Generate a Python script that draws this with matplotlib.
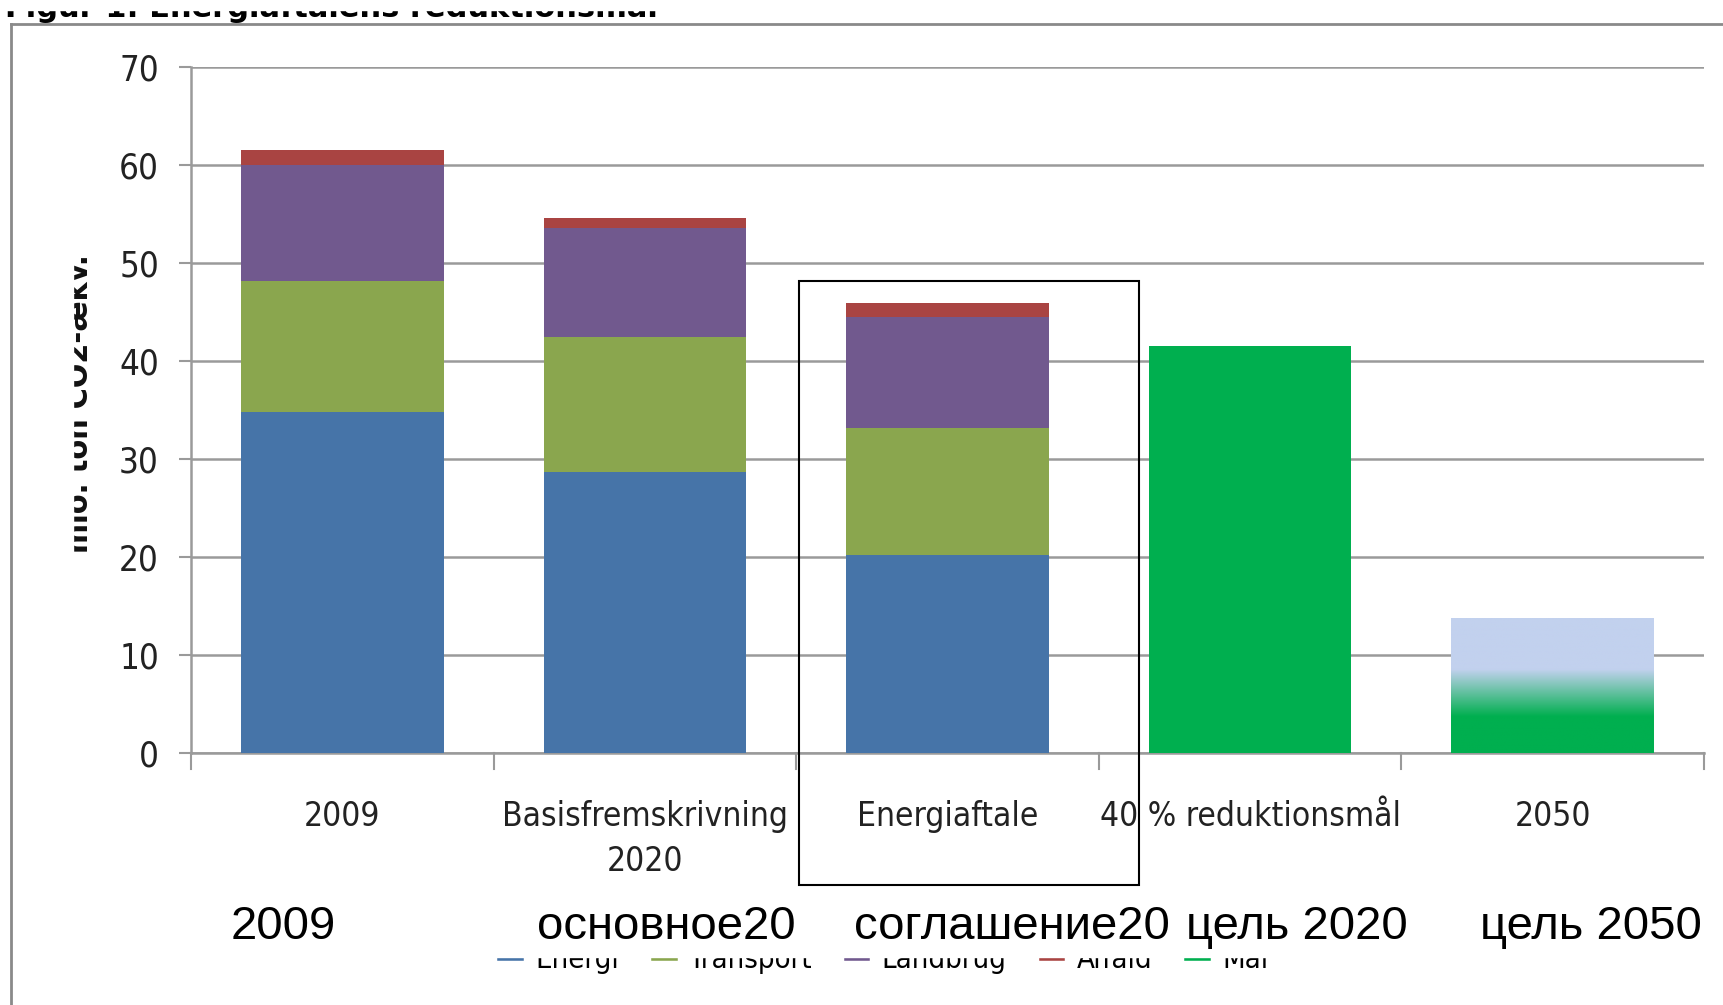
import matplotlib
matplotlib.use("Agg")
import matplotlib.pyplot as plt
import numpy as np
from matplotlib.colors import LinearSegmentedColormap
from matplotlib.lines import Line2D
from matplotlib.patches import Rectangle
from matplotlib import font_manager as fm

# ---- data ----
categories = ["2009", "Basisfremskrivning\n2020", "Energiaftale", "40 % reduktionsmål", "2050"]
energi = [34.8, 28.7, 20.2, 0, 0]
transport = [13.4, 13.7, 13.0, 0, 0]
landbrug = [11.8, 11.2, 11.3, 0, 0]
affald = [1.5, 1.0, 1.4, 0, 0]
maal = [0, 0, 0, 41.5, 13.8]
series_names = ["Energi", "Transport", "Landbrug", "Affald", "Mål"]
russian_labels = ["2009", "основное20", "соглашение20", "цель 2020", "цель 2050"]
yticks = [0, 10, 20, 30, 40, 50, 60, 70]
ylabel = "mio. ton CO2-ækv."
title = "Figur 1: Energiaftalens reduktionsmål"

# ---- style ----
c_energi = "#4674A8"
c_transport = "#8AA64E"
c_landbrug = "#71598E"
c_affald = "#A94442"
c_maal = "#00AF4F"
c_light = "#C2D1EE"
grid_c = "#9a9a9a"

# find a condensed font if available
cond_file = None
for f in fm.findSystemFonts():
    n = f.lower()
    if "liberationsansnarrow-regular" in n.replace(" ", ""):
        cond_file = f
        break
if cond_file is None:
    for f in fm.findSystemFonts():
        if "dejavusanscondensed.ttf" in f.lower():
            cond_file = f
            break
cond_bold = None
for f in fm.findSystemFonts():
    if "dejavusanscondensed-bold.ttf" in f.lower():
        cond_bold = f
        break

def fp(size, bold=False):
    if bold and cond_bold:
        return fm.FontProperties(fname=cond_bold, size=size)
    if cond_file:
        return fm.FontProperties(fname=cond_file, size=size, weight="bold" if bold else "normal")
    return fm.FontProperties(family="DejaVu Sans", size=size, weight="bold" if bold else "normal")

W, H = 1724, 1005
fig = plt.figure(figsize=(W / 100, H / 100), dpi=100)
ax = fig.add_axes([191 / W, 1 - 753 / H, (1704 - 191) / W, (753 - 67) / H])

x = np.arange(len(categories))
bw = 0.67
n_stack = 3
xs = x[:n_stack]
b = np.zeros(n_stack)
for vals, col in [(energi, c_energi), (transport, c_transport), (landbrug, c_landbrug), (affald, c_affald)]:
    v = np.array(vals[:n_stack])
    ax.bar(xs, v, bw, bottom=b, color=col, zorder=3, linewidth=0)
    b += v

# 40% goal bar
ax.bar(x[3], maal[3], bw, color=c_maal, zorder=3, linewidth=0)

# 2050 gradient bar
patch = ax.bar(x[4], maal[4], bw, color="none", zorder=3, linewidth=0)[0]
top = maal[4]
g0, g1 = 3.7 / top, 8.5 / top
cmap = LinearSegmentedColormap.from_list("g", [(0, c_maal), (g0, c_maal), (g1, c_light), (1, c_light)])
grad = np.linspace(0, 1, 256).reshape(-1, 1)
im = ax.imshow(grad, cmap=cmap, origin="lower", aspect="auto",
               extent=[x[4] - bw / 2, x[4] + bw / 2, 0, top], zorder=3)
im.set_clip_path(patch)

ax.set_xlim(-0.5, len(categories) - 0.5)
ax.set_ylim(0, 70)
ax.set_yticks(yticks)
ax.set_yticklabels([str(t) for t in yticks], fontproperties=fp(25), color="#222222")
ax.set_xticks(x)
ax.set_xticklabels(categories, fontproperties=fp(24), color="#222222", linespacing=1.45)
ax.tick_params(axis="x", length=0, pad=34)
ax.tick_params(axis="y", length=9, width=1.5, color=grid_c, direction="out", pad=14)
# category boundary ticks
for bx in np.arange(-0.5, len(categories), 1.0):
    ax.plot([bx, bx], [0, -1.6], color=grid_c, lw=1.5, clip_on=False, zorder=2)

ax.yaxis.grid(True, color=grid_c, lw=1.8, zorder=0)
ax.set_axisbelow(True)
for s in ["top", "right"]:
    ax.spines[s].set_visible(False)
ax.spines["left"].set_color(grid_c)
ax.spines["left"].set_linewidth(1.8)
ax.spines["bottom"].set_color(grid_c)
ax.spines["bottom"].set_linewidth(1.8)

# y label (partly clipped at left)
fig.text(80 / W, 1 - 404 / H, ylabel, rotation=90, ha="center", va="center",
         fontproperties=fp(23, bold=True), color="#111111")
fig.patches.append(Rectangle((14 / W, 1 - 650 / H), (73 - 14) / W, 480 / H,
                             transform=fig.transFigure, color="white", zorder=5))

# clipped title at top
fig.text(5 / W, 1 - 17 / H, title, ha="left", va="baseline", fontsize=22,
         fontweight="bold", color="black", family=["DejaVu Sans"])
fig.patches.append(Rectangle((0, 1 - 10 / H), 1, 10 / H, transform=fig.transFigure,
                             color="white", zorder=5))

# frame lines
fig.add_artist(Line2D([11 / W, 11 / W], [0, 1 - 24 / H], color="#8a8a8a", lw=2, transform=fig.transFigure))
fig.add_artist(Line2D([11 / W, 1], [1 - 24 / H, 1 - 24 / H], color="#8a8a8a", lw=2, transform=fig.transFigure))

# box around Energiaftale
fig.patches.append(Rectangle((799 / W, 1 - 885 / H), (1139 - 799) / W, (885 - 281) / H,
                             transform=fig.transFigure, fill=False, edgecolor="black", lw=1.5, zorder=6))

# legend (partially covered)
cols = [c_energi, c_transport, c_landbrug, c_affald, c_maal]
handles = [Line2D([0], [0], color=c, lw=4) for c in cols]
fig.legend(handles, series_names, ncol=5, loc="center", bbox_to_anchor=(0.513, 1 - 960 / H),
           frameon=False, handlelength=0.7, columnspacing=1.2, handletextpad=0.5,
           prop=fp(21))
fig.patches.append(Rectangle((14 / W, 1 - 957 / H), 1, (957 - 890) / H,
                             transform=fig.transFigure, color="white", zorder=7))

# russian overlay labels
rus_x = [283, 666, 1012, 1297, 1591]
for lx, lab in zip(rus_x, russian_labels):
    fig.text(lx / W, 1 - 927 / H, lab, ha="center", va="center", fontsize=34,
             family=["Liberation Sans", "DejaVu Sans"], color="black", zorder=8)

fig.savefig("out.png", dpi=100)
